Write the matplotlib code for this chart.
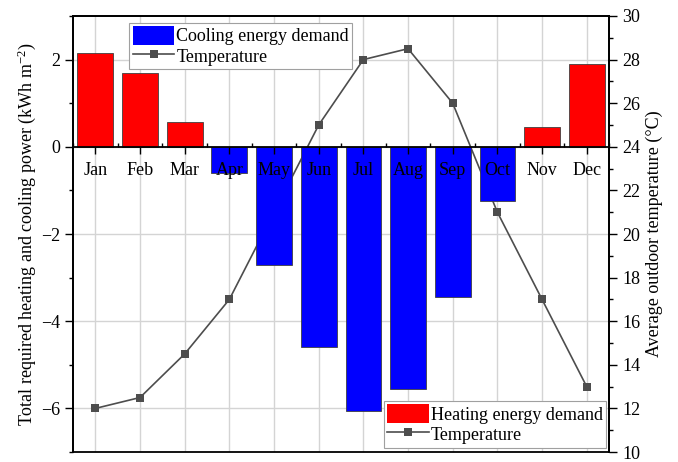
import matplotlib
matplotlib.use('Agg')
import matplotlib.pyplot as plt
from matplotlib.patches import Patch
from matplotlib.lines import Line2D
from matplotlib.ticker import MultipleLocator
import numpy as np

plt.rcParams['font.family'] = ['Liberation Serif', 'DejaVu Serif']
plt.rcParams['mathtext.fontset'] = 'custom'
plt.rcParams['mathtext.rm'] = 'Liberation Serif'
plt.rcParams['mathtext.it'] = 'Liberation Serif:italic'

months = ['Jan', 'Feb', 'Mar', 'Apr', 'May', 'Jun', 'Jul', 'Aug', 'Sep', 'Oct', 'Nov', 'Dec']
power = [2.15, 1.70, 0.57, -0.60, -2.70, -4.60, -6.05, -5.55, -3.45, -1.25, 0.45, 1.90]
temperature = [12.0, 12.5, 14.5, 17.0, 21.0, 25.0, 28.0, 28.5, 26.0, 21.0, 17.0, 13.0]

heat_color = '#ff0000'
cool_color = '#0000ff'
line_color = '#4d4d4d'
fs = 13

x = np.arange(1, len(months) + 1)
colors = [heat_color if p > 0 else cool_color for p in power]

fig = plt.figure(figsize=(6.78, 4.62), dpi=100)
rect = [0.1077, 0.0216, 0.7906, 0.9438]

# background axes only for the grid, so grid sits under line and bars
axg = fig.add_axes(rect)
ax = fig.add_axes(rect, sharex=axg)
ax2 = ax.twinx()
axg.set_zorder(0)
ax2.set_zorder(1)
ax.set_zorder(2)
ax.patch.set_visible(False)
ax2.patch.set_visible(False)

axg.set_ylim(-7, 3)
axg.yaxis.set_major_locator(MultipleLocator(2))
axg.grid(True, color='#d4d4d4', linewidth=1)
axg.tick_params(which='both', length=0, labelleft=False, labelbottom=False)
for s in axg.spines.values():
    s.set_visible(False)

ax2.plot(x, temperature, color=line_color, marker='s', markersize=6,
         markeredgewidth=0, linewidth=1.2)
ax2.set_ylim(10, 30)
ax2.yaxis.set_major_locator(MultipleLocator(2))
ax2.yaxis.set_minor_locator(MultipleLocator(1))
ax2.tick_params(axis='y', which='major', direction='out', length=6, width=1, labelsize=fs)
ax2.tick_params(axis='y', which='minor', direction='out', length=3, width=1)
ax2.set_ylabel('Average outdoor temperature (\u00b0C)', fontsize=fs)
for s in ax2.spines.values():
    s.set_linewidth(1.3)

ax.bar(x, power, width=0.8, color=colors, edgecolor='#404040', linewidth=0.6, zorder=1)
ax.set_xlim(0.5, 12.5)
ax.set_ylim(-7, 3)
ax.yaxis.set_major_locator(MultipleLocator(2))
ax.yaxis.set_minor_locator(MultipleLocator(1))
ax.set_xticks(x)
ax.set_xticklabels(months)
ax.xaxis.set_minor_locator(MultipleLocator(0.5))
ax.xaxis.set_zorder(5)
ax.spines['bottom'].set_position(('data', 0))
ax.spines['bottom'].set_zorder(4)
for s in ax.spines.values():
    s.set_linewidth(1.3)
ax.tick_params(axis='x', which='major', direction='out', length=5, width=1, labelsize=fs, pad=6)
ax.tick_params(axis='x', which='minor', direction='in', length=3, width=1)
ax.tick_params(axis='y', which='major', direction='out', length=6, width=1, labelsize=fs)
ax.tick_params(axis='y', which='minor', direction='out', length=3, width=1)
ax.set_ylabel('Total required heating and cooling power (kWh m$^{-2}$)', fontsize=fs, labelpad=2)

temp_handle = Line2D([], [], color=line_color, marker='s', markersize=6,
                     markeredgewidth=0, linewidth=1.2)
leg1 = ax.legend([Patch(facecolor=cool_color), temp_handle],
                 ['Cooling energy demand', 'Temperature'],
                 loc='upper left', bbox_to_anchor=(0.105, 0.985), fontsize=fs,
                 frameon=True, fancybox=False, edgecolor='#a0a0a0', framealpha=1,
                 handlelength=2.3, handleheight=1.2, handletextpad=0.1,
                 labelspacing=0.05, borderpad=0.2, borderaxespad=0)
leg1.get_frame().set_linewidth(0.8)
ax.add_artist(leg1)
leg2 = ax.legend([Patch(facecolor=heat_color), temp_handle],
                 ['Heating energy demand', 'Temperature'],
                 loc='lower right', bbox_to_anchor=(0.995, 0.01), fontsize=fs,
                 frameon=True, fancybox=False, edgecolor='#a0a0a0', framealpha=1,
                 handlelength=2.3, handleheight=1.2, handletextpad=0.1,
                 labelspacing=0.05, borderpad=0.2, borderaxespad=0)
leg2.get_frame().set_linewidth(0.8)

fig.savefig('out.png', dpi=100)
